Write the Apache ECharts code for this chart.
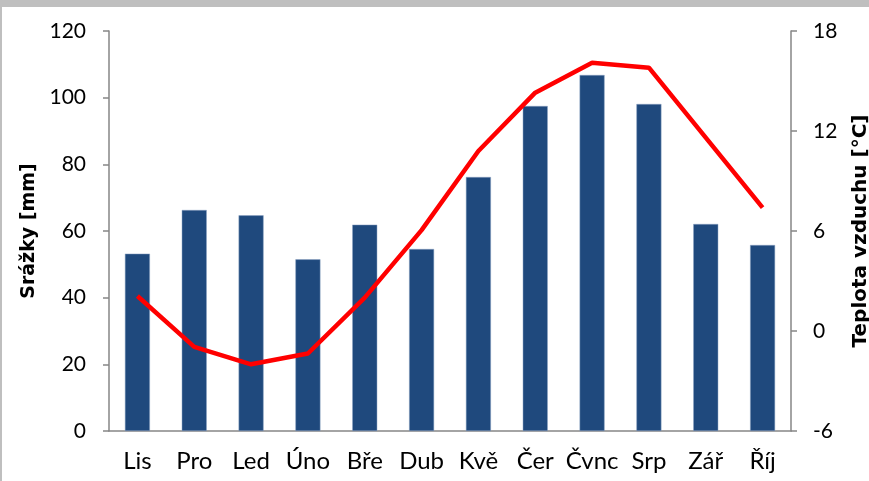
<!DOCTYPE html>
<html>
<head>
<meta charset="utf-8">
<script src="https://cdn.jsdelivr.net/npm/echarts@6/dist/echarts.min.js"></script>
<style>
html,body{margin:0;padding:0;background:#fff;}
#c{width:869px;height:481px;}
</style>
</head>
<body>
<div id="c"></div>
<script>
const months = ['Lis','Pro','Led','Úno','Bře','Dub','Kvě','Čer','Čvnc','Srp','Zář','Říj'];
const precipitation = [53.2, 66.3, 64.7, 51.5, 61.9, 54.6, 76.2, 97.5, 106.8, 98.1, 62.1, 55.8];
const temperature = [2.1, -0.95, -2.0, -1.35, 2.0, 6.05, 10.8, 14.3, 16.1, 15.8, 11.6, 7.4];
const leftTicks = {min: 0, max: 120, interval: 20};
const rightTicks = {min: -6, max: 18, interval: 6};

const chart = echarts.init(document.getElementById('c'));
const font = 'Lato, "Open Sans", sans-serif';
const titleFont = '"DejaVu Sans", sans-serif';
const axisGray = '#868686';
chart.setOption({
  animation: false,
  graphic: [
    {type: 'rect', left: 0, top: 0, shape: {width: 869, height: 7}, style: {fill: '#bfbfbf'}},
    {type: 'rect', left: 0, top: 0, shape: {width: 2, height: 481}, style: {fill: '#bfbfbf'}}
  ],
  grid: {left: 109, right: 78, top: 31, bottom: 50, containLabel: false, outerBoundsMode: 'none'},
  xAxis: {
    type: 'category',
    data: months,
    boundaryGap: true,
    axisLine: {lineStyle: {color: axisGray, width: 1.5}},
    axisTick: {length: 7, interval: 0, lineStyle: {color: axisGray, width: 1.5}},
    axisLabel: {color: '#000', fontFamily: font, fontSize: 24, margin: 18, interval: 0, hideOverlap: false}
  },
  yAxis: [
    {
      type: 'value', min: leftTicks.min, max: leftTicks.max, interval: leftTicks.interval,
      name: 'Srážky [mm]', nameLocation: 'middle', nameGap: 66, nameRotate: 90,
      nameTextStyle: {color: '#000', fontFamily: titleFont, fontSize: 19, fontWeight: 'bold'},
      axisLine: {show: true, lineStyle: {color: axisGray, width: 1.5}},
      axisTick: {show: true, length: 6, lineStyle: {color: axisGray, width: 1.5}},
      axisLabel: {color: '#000', fontFamily: font, fontSize: 21, margin: 23},
      splitLine: {show: false}
    },
    {
      type: 'value', min: rightTicks.min, max: rightTicks.max, interval: rightTicks.interval,
      position: 'right',
      name: 'Teplota vzduchu [°C]', nameLocation: 'middle', nameGap: 60, nameRotate: 90,
      nameTextStyle: {color: '#000', fontFamily: titleFont, fontSize: 20, fontWeight: 'bold'},
      axisLine: {show: true, lineStyle: {color: axisGray, width: 1.5}},
      axisTick: {show: true, length: 6, lineStyle: {color: axisGray, width: 1.5}},
      axisLabel: {color: '#000', fontFamily: font, fontSize: 21, margin: 22},
      splitLine: {show: false}
    }
  ],
  series: [
    {
      type: 'bar', data: precipitation, yAxisIndex: 0, barWidth: 25,
      itemStyle: {color: '#1F497D', borderColor: '#8ea5c4', borderWidth: 0.5}
    },
    {
      type: 'line', data: temperature, yAxisIndex: 1, symbol: 'none',
      lineStyle: {color: '#FF0000', width: 4.5}
    }
  ]
});
</script>
</body>
</html>
